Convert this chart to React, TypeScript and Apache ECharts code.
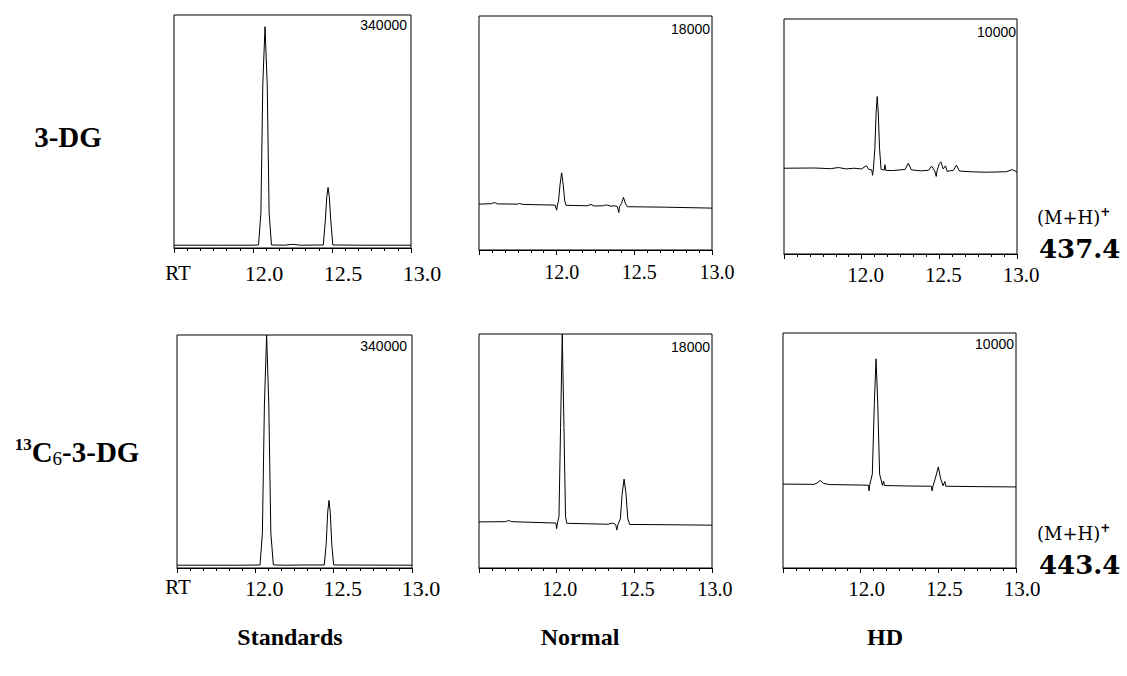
import React, { useEffect, useRef } from "react";
import * as echarts from "echarts";

// ---- data (retention time in min, intensity in % of full scale) ----
const columnTitles = ["Standards", "Normal", "HD"];
const rowLabels = ["3-DG", "13C6-3-DG"];
const massLabels = ["437.4", "443.4"];
const fullScales = ["340000", "18000", "10000"];
const rtMin = 11.5;
const rtMax = 13.0;
const rtStep = 0.5;

const std3DG: [number, number][] = [
  [11.5, 1.2], [11.8, 1.2], [12.0, 1.2], [12.035, 1.3], [12.05, 15], [12.062, 70], [12.076, 95],
  [12.09, 70], [12.102, 15], [12.117, 1.3], [12.2, 1.2], [12.25, 1.6], [12.3, 1.2], [12.445, 1.3],
  [12.458, 12], [12.467, 22], [12.475, 26], [12.483, 22], [12.492, 12], [12.505, 1.3], [12.7, 1.2],
  [13.0, 1.2],
];

const normal3DG: [number, number][] = [
  [11.5, 19.6], [11.58, 19.8], [11.6, 20.3], [11.62, 19.7], [11.75, 19.6], [11.76, 19.9],
  [11.78, 19.5], [11.9, 19.3], [11.99, 19.2], [12.0, 17], [12.005, 19.2], [12.012, 21],
  [12.022, 28], [12.032, 33], [12.042, 28], [12.052, 21], [12.06, 19.1], [12.2, 18.9],
  [12.22, 19.5], [12.24, 18.8], [12.3, 18.9], [12.32, 19.3], [12.35, 18.7], [12.37, 18.9],
  [12.39, 18.6], [12.4, 16], [12.405, 18.6], [12.418, 20], [12.43, 22.5], [12.442, 20],
  [12.455, 18.5], [12.7, 18.3], [13.0, 17.9],
];

const hd3DG: [number, number][] = [
  [11.5, 36.5], [11.7, 36.6], [11.8, 36.3], [11.85, 36.8], [11.9, 36.2], [11.95, 36.5],
  [12.0, 36.2], [12.03, 37.6], [12.045, 36.0], [12.065, 35.8], [12.07, 33.5], [12.075, 35.8],
  [12.085, 45], [12.093, 60], [12.1, 67], [12.107, 60], [12.115, 45], [12.125, 36],
  [12.145, 35.7], [12.15, 38], [12.155, 35.6], [12.2, 35.5], [12.28, 36], [12.3, 38.6],
  [12.32, 35.8], [12.38, 35.4], [12.43, 35.6], [12.45, 37.4], [12.47, 35.4], [12.48, 33],
  [12.485, 35.4], [12.5, 38.5], [12.51, 39.2], [12.525, 36.2], [12.54, 37.5], [12.55, 35.2],
  [12.59, 35.6], [12.61, 37.8], [12.63, 35.3], [12.7, 35], [12.8, 34.8], [12.93, 35],
  [12.97, 35.9], [13.0, 34.9],
];

const std13C6: [number, number][] = [
  [11.5, 1.2], [11.9, 1.2], [12.03, 1.3], [12.045, 15], [12.058, 70], [12.072, 100],
  [12.086, 70], [12.099, 15], [12.115, 1.3], [12.2, 1.2], [12.3, 1.3], [12.44, 1.3],
  [12.452, 10], [12.462, 24], [12.47, 29], [12.478, 24], [12.488, 10], [12.5, 1.3], [13.0, 1.2],
];

const normal13C6: [number, number][] = [
  [11.5, 19.7], [11.67, 19.8], [11.69, 20.3], [11.71, 19.8], [11.9, 19.4], [11.995, 19.2],
  [12.0, 16.8], [12.005, 19.2], [12.015, 22], [12.025, 60], [12.036, 100], [12.047, 60],
  [12.057, 22], [12.065, 19.1], [12.2, 18.9], [12.33, 18.7], [12.36, 19.2], [12.38, 18.6],
  [12.387, 16.2], [12.395, 18.6], [12.41, 21], [12.422, 32], [12.434, 38], [12.446, 32],
  [12.458, 21], [12.47, 18.6], [12.7, 18.5], [13.0, 18.3],
];

const hd13C6: [number, number][] = [
  [11.5, 35.7], [11.7, 35.6], [11.72, 36.2], [11.74, 37.3], [11.76, 36], [11.8, 35.5],
  [12.0, 35.3], [12.05, 35.2], [12.054, 32.8], [12.058, 35.2], [12.075, 40], [12.088, 70],
  [12.099, 89], [12.11, 70], [12.122, 40], [12.14, 35.2], [12.148, 37], [12.152, 35.1],
  [12.3, 34.9], [12.455, 34.8], [12.46, 32.8], [12.465, 34.8], [12.48, 38], [12.5, 43],
  [12.515, 38], [12.53, 35], [12.542, 36.8], [12.548, 34.8], [12.8, 34.6], [13.0, 34.5],
];

const traces = [std3DG, normal3DG, hd3DG, std13C6, normal13C6, hd13C6];

// ---- layout ----
const panels = [
  { left: 174, top: 15, width: 237, height: 233, font: 22, shift: 11, margin: 14 },
  { left: 479, top: 16, width: 233, height: 234, font: 20, shift: 5, margin: 12 },
  { left: 784, top: 19, width: 233, height: 235, font: 21, shift: 4, margin: 10 },
  { left: 177, top: 335, width: 235, height: 233, font: 22, shift: 9, margin: 9 },
  { left: 479, top: 334, width: 233, height: 234, font: 20, shift: 3, margin: 11 },
  { left: 783, top: 333, width: 233, height: 235, font: 21, shift: 6, margin: 10 },
];

const SERIF = "Liberation Serif";

export default function App() {
  const ref = useRef<HTMLDivElement>(null);

  useEffect(() => {
    if (!ref.current) return;
    const chart = echarts.init(ref.current, undefined, { renderer: "svg" });

    const grid = panels.map((p) => ({
      left: p.left,
      top: p.top,
      width: p.width,
      height: p.height,
      show: true,
      borderColor: "#000",
      borderWidth: 1,
      containLabel: false,
    }));

    const xAxis = panels.map((p, i) => ({
      type: "value",
      gridIndex: i,
      min: rtMin,
      max: rtMax,
      interval: rtStep,
      axisLine: { show: true, onZero: false, lineStyle: { color: "#000", width: 1 } },
      axisTick: { show: true, length: 5, lineStyle: { color: "#000", width: 1 } },
      minorTick: { show: true, splitNumber: 6, length: 3, lineStyle: { color: "#000", width: 1 } },
      splitLine: { show: false },
      minorSplitLine: { show: false },
      axisLabel: {
        showMinLabel: false,
        formatter: (v: number) => (v < rtMin + 0.1 ? "" : v.toFixed(1)),
        fontFamily: SERIF,
        fontSize: p.font,
        color: "#000",
        margin: p.margin,
        padding: [0, 0, 0, p.shift * 2],
      },
    }));

    const yAxis = panels.map((_, i) => ({
      type: "value",
      gridIndex: i,
      min: 0,
      max: 100,
      show: false,
    }));

    const series = traces.map((d, i) => ({
      type: "line",
      xAxisIndex: i,
      yAxisIndex: i,
      data: d,
      symbol: "none",
      showSymbol: false,
      silent: true,
      clip: true,
      lineStyle: { color: "#000", width: 1 },
    }));

    const text = (t: string, x: number, y: number, font: string, align = "center") => ({
      type: "text",
      x,
      y,
      silent: true,
      style: { text: t, font, fill: "#000", textAlign: align, textVerticalAlign: "middle" },
    });

    const fullScalePos = [
      { x: 407, y: 25 },
      { x: 710, y: 29 },
      { x: 1016, y: 32 },
      { x: 407, y: 346 },
      { x: 710, y: 347 },
      { x: 1014, y: 344 },
    ];

    const graphic: any[] = [
      text(rowLabels[0], 68, 137, `bold 29px "${SERIF}"`),
      {
        type: "text",
        x: 77,
        y: 452,
        silent: true,
        style: {
          text: "{sup|13}{big|C}{sub|6}{big|-3-DG}",
          textAlign: "center",
          textVerticalAlign: "middle",
          fill: "#000",
          rich: {
            sup: { fontFamily: SERIF, fontWeight: "bold", fontSize: 17, lineHeight: 18, verticalAlign: "top", fill: "#000" },
            big: { fontFamily: SERIF, fontWeight: "bold", fontSize: 29, lineHeight: 32, verticalAlign: "middle", fill: "#000" },
            sub: { fontFamily: SERIF, fontSize: 19, lineHeight: 22, verticalAlign: "bottom", fill: "#000" },
          },
        },
      },
      text("RT", 178, 273, `21px "${SERIF}"`),
      text("RT", 178, 587, `21px "${SERIF}"`),
      ...[217, 533].map((y) => ({
        type: "text",
        x: 1037,
        y,
        silent: true,
        style: {
          text: "{m|(M+H)}{p|+}",
          textAlign: "left",
          textVerticalAlign: "middle",
          fill: "#000",
          rich: {
            m: { fontFamily: "DejaVu Serif", fontSize: 18, lineHeight: 22, verticalAlign: "middle", fill: "#000" },
            p: { fontFamily: "DejaVu Serif", fontWeight: "bold", fontSize: 12, lineHeight: 12, verticalAlign: "top", fill: "#000" },
          },
        },
      })),
      text(massLabels[0], 1039, 249, `bold 26px "DejaVu Serif"`, "left"),
      text(massLabels[1], 1039, 565, `bold 26px "DejaVu Serif"`, "left"),
      ...fullScalePos.map((p, i) =>
        text(fullScales[i % 3], p.x, p.y, `14px "Liberation Sans"`, "right")
      ),
      text(columnTitles[0], 290, 637, `bold 24px "${SERIF}"`),
      text(columnTitles[1], 580, 637, `bold 24px "${SERIF}"`),
      text(columnTitles[2], 885, 637, `bold 24px "${SERIF}"`),
    ];

    chart.setOption({
      animation: false,
      backgroundColor: "#fff",
      grid,
      xAxis,
      yAxis,
      series,
      graphic,
    });

    return () => chart.dispose();
  }, []);

  return (
    <div
      ref={ref}
      style={{ position: "absolute", left: 0, top: 0, width: 1127, height: 676, background: "#fff" }}
    />
  );
}
